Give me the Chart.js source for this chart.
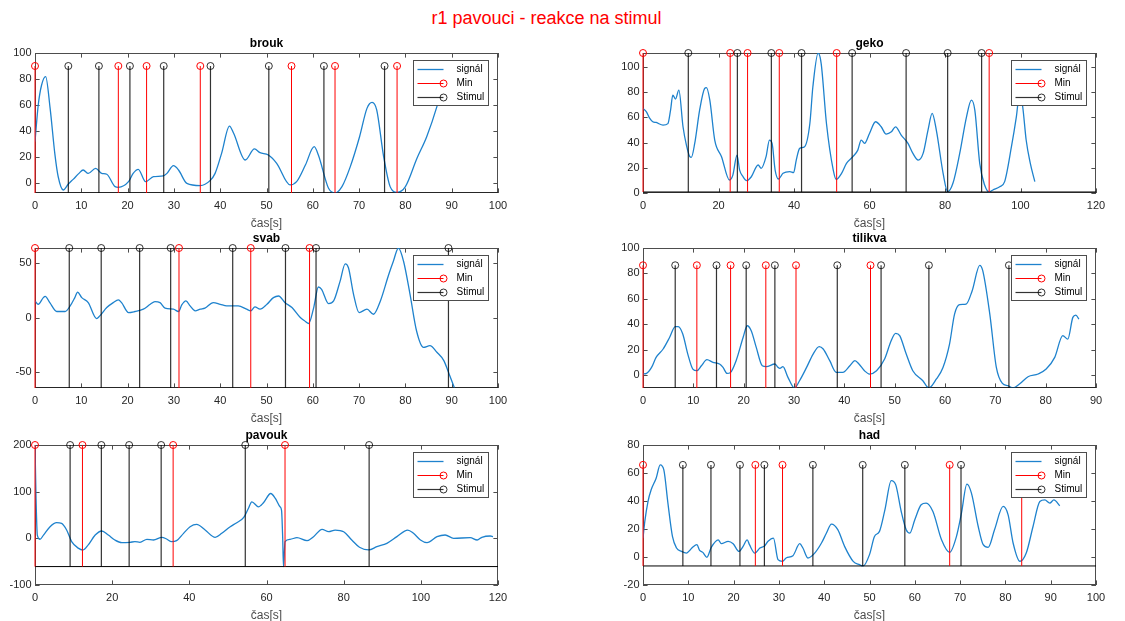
<!DOCTYPE html>
<html>
<head>
<meta charset="utf-8">
<title>r1 pavouci - reakce na stimul</title>
<script src="https://cdn.jsdelivr.net/npm/chart.js@4.4.1/dist/chart.umd.min.js"></script>
<style>
  body { margin: 0; background: #fff; }
  #wrap { position: relative; width: 1125px; height: 621px; overflow: hidden; }
  #suptitle { position: absolute; left: 0; width: 1093px; top: 8px; text-align: center; color: #f00;
              font: 18px/20px "Liberation Sans", Arial, sans-serif; }
  canvas { position: absolute; }
</style>
</head>
<body>
<div id="wrap">
  <div id="suptitle">r1 pavouci - reakce na stimul</div>
  <canvas id="cBrouk" width="508" height="205" style="left:0;top:28px"></canvas>
  <canvas id="cGeko" width="498" height="205" style="left:608px;top:28px"></canvas>
  <canvas id="cSvab" width="508" height="205" style="left:0;top:223px"></canvas>
  <canvas id="cTilikva" width="498" height="205" style="left:608px;top:223px"></canvas>
  <canvas id="cPavouk" width="508" height="205" style="left:0;top:420px"></canvas>
  <canvas id="cHad" width="498" height="205" style="left:608px;top:420px"></canvas>
</div>
<script>
// ---- brouk
const broukTime = [0, 0.7, 1.4, 2.3, 3.25, 4.3, 5.0, 6.1, 7.2, 8.3, 9.5, 10.4, 11.5, 13.1, 14.4, 15.5, 17.3, 18.0, 20.2, 21.2, 22.3, 23.9, 25.6, 27.7, 28.5, 29.9, 31.0, 32.8, 35.7, 37.8, 38.9, 40.3, 42.0, 42.9, 45.4, 47.4, 48.6, 50.4, 52.2, 55.1, 56.5, 58.4, 60.3, 61.2, 63.4, 64.8, 66.3, 68.1, 70.1, 71.7, 72.8, 73.8, 75.3, 76.7, 78.2, 80.0, 82.5, 84.6, 86.8, 88.0, 89.0];
const broukSignal = [31.8, 60, 75, 81.8, 58, 22, 5, -5.4, -0.8, 3, 7.4, 10, 7.4, 11.3, 7.4, 6.7, -2.8, -3.3, 1, 7.4, 10.5, 1, 4.9, 5.4, 7.4, 13.3, 10, -0.3, -2, 1.8, 7.4, 22.8, 43.8, 38.2, 17.7, 26.2, 23.3, 21.5, 15.1, -1.5, 1, 13.8, 27.9, 21.5, -4.1, -7.7, -2.8, 12.6, 35.6, 57.4, 62, 56.2, 20.3, -2.8, -7.2, -2.8, 19, 35.6, 58.7, 75, 90];
const broukMin = [0, 18.0, 24.1, 35.7, 55.4, 64.8, 78.2];
const broukStimul = [7.2, 13.8, 20.5, 27.8, 37.9, 50.5, 62.4, 75.5];
const broukXTicks = [0, 10, 20, 30, 40, 50, 60, 70, 80, 90, 100];
const broukYTicks = [0, 20, 40, 60, 80, 100];

// ---- geko
const gekoTime = [0, 0.9, 1.8, 2.6, 3.5, 5.3, 6.6, 7.3, 7.9, 8.6, 9.5, 10.6, 11.5, 12.4, 12.8, 13.7, 15.0, 16.3, 16.8, 17.7, 19.0, 20.8, 22.9, 23.8, 24.9, 25.6, 26.5, 27.5, 28.7, 30.5, 31.3, 32.6, 33.5, 34.2, 35.0, 35.9, 37.1, 38.9, 39.9, 40.6, 41.5, 42.8, 44.2, 45.0, 46.4, 47.2, 48.6, 50.4, 51.2, 52.6, 53.9, 55.6, 56.9, 57.8, 58.7, 60.0, 61.6, 63.1, 64.4, 65.8, 66.9, 68.4, 70.2, 71.5, 72.9, 74.2, 75.5, 76.6, 77.7, 79.5, 80.7, 82.1, 83.9, 85.7, 87.0, 87.9, 89.2, 90.5, 91.7, 92.7, 94.5, 95.8, 97.6, 98.9, 99.8, 100.6, 101.5, 102.6, 103.8];
const gekoSignal = [67, 64.4, 59.1, 56.5, 55.9, 53.8, 55, 65.7, 77.6, 74.5, 81.5, 52.5, 38, 28.8, 28.2, 39.3, 65.7, 82.8, 83.6, 73.6, 42, 28.8, 10.3, 14.2, 30.1, 18.2, 12.9, 9.8, 12.9, 22.2, 19.5, 28.8, 42, 39.3, 18.2, 11.1, 15.6, 16.9, 16.1, 26.1, 35.4, 36.7, 55.1, 84.2, 111, 102.6, 55.1, 18.2, 10.8, 15.6, 23.5, 28.8, 34, 42, 39.3, 47.2, 56.5, 52.5, 46.7, 48.5, 52.5, 45.9, 39.3, 31.4, 26.1, 31.4, 49.9, 63.1, 49.9, 15.6, 1, 7.7, 31.4, 60.4, 73.6, 65.7, 23.5, 6.3, 0.8, 2.4, 5, 9, 36.7, 60.4, 80, 68, 42, 23.5, 9];
const gekoMin = [0, 23.1, 27.7, 36.1, 51.3, 91.7];
const gekoStimul = [12.0, 25.0, 34.0, 42.0, 55.4, 69.7, 80.7, 89.7];
const gekoXTicks = [0, 20, 40, 60, 80, 100, 120];
const gekoYTicks = [0, 20, 40, 60, 80, 100];

// ---- svab
const svabTime = [0, 0.7, 1.8, 2.2, 3.2, 4.7, 6.5, 7.6, 8.6, 9.2, 10.1, 11.5, 13.3, 14.0, 15.5, 16.9, 18.0, 18.7, 20.2, 21.6, 23.4, 24.9, 25.9, 27.0, 28.1, 29.9, 31.0, 31.7, 32.6, 33.5, 34.6, 35.7, 36.7, 38.5, 40.0, 41.4, 43.9, 45.7, 46.6, 47.5, 48.6, 50.1, 51.5, 52.6, 54.0, 55.5, 57.3, 58.4, 59.1, 60.2, 61.2, 61.9, 63.4, 64.5, 65.9, 67.0, 67.7, 68.8, 70.0, 71.7, 73.1, 74.6, 76.4, 77.4, 78.5, 79.6, 81.0, 82.4, 83.9, 85.3, 86.8, 88.3, 89.3, 90.6];
const svabSignal = [15.2, 12.1, 18.2, 19.4, 13.6, 5.5, 5.5, 10.6, 18.2, 23.3, 18.2, 13.6, -1, 1.5, 9.1, 13.6, 16.1, 13.6, 4.5, 5.5, 7.6, 12.1, 14.5, 13.6, 8.5, 7.6, 5.5, 11.5, 15.2, 10.6, 6.1, 7.6, 8.5, 13.6, 12.1, 10.6, 10.6, 7.6, 6.1, 9.7, 7.6, 12.1, 18.2, 19.7, 13.6, 9.1, 0, -3.6, -5.5, 9.1, 27.9, 25.8, 12.7, 15.2, 33.3, 49.1, 45.5, 21.2, 4.5, 7.6, 3, 15.2, 39.4, 51.5, 63.6, 51.5, 21.2, -12.1, -27.3, -25.8, -31.8, -39.4, -50, -64.5];
const svabMin = [0, 31.1, 46.6, 59.3];
const svabStimul = [7.4, 14.3, 22.6, 29.3, 42.7, 54.1, 60.7, 89.3];
const svabXTicks = [0, 10, 20, 30, 40, 50, 60, 70, 80, 90, 100];
const svabYTicks = [-50, 0, 50];

// ---- tilikva
const tilikvaTime = [0, 0.7, 1.7, 2.6, 4.0, 5.3, 6.4, 7.0, 7.9, 8.9, 9.9, 10.7, 11.6, 12.7, 13.9, 15.2, 15.9, 16.7, 17.4, 18.5, 19.9, 20.7, 21.5, 22.5, 23.7, 24.5, 26.2, 26.7, 27.2, 27.8, 28.8, 30.1, 31.1, 32.5, 33.8, 35.0, 35.8, 37.1, 38.4, 39.7, 41.1, 42.1, 42.9, 44.0, 45.0, 46.4, 48.0, 49.3, 50.2, 51.0, 52.3, 53.6, 55.6, 56.8, 58.3, 59.6, 60.9, 61.9, 62.9, 64.2, 65.4, 66.9, 67.5, 68.9, 70.2, 71.4, 72.5, 73.5, 74.8, 76.5, 78.5, 80.1, 81.8, 83.4, 84.4, 85.4, 86.0, 86.6];
const tilikvaSignal = [0.8, 1.3, 6, 13.9, 20.5, 29.7, 38.1, 38.1, 32.3, 16.5, 4.7, 3.4, 7.3, 12.1, 10, 8.7, 6, 1.3, 2.1, 11.3, 29.7, 38.8, 34.9, 21.8, 7.3, 6.6, 8.7, 6.6, 5.2, 6.6, -1.8, -10.2, -4.5, 6, 16.5, 22.3, 20.5, 11.3, 2.1, 2.1, 7.3, 11.3, 8.7, 3.4, 0.8, 3.4, 12.6, 27, 32.8, 31, 16.5, 3.4, -4.5, -10.2, -3.1, 6, 24.4, 48, 55.4, 55.9, 66.4, 86.4, 82.2, 48, 6, -6.6, -8.4, -10.2, -7.1, -1.3, 0.8, 4.7, 13.9, 31, 28.3, 45.4, 47.2, 44];
const tilikvaMin = [0, 10.7, 17.4, 24.4, 30.4, 45.2];
const tilikvaStimul = [6.4, 14.6, 20.5, 26.2, 38.6, 47.3, 56.8, 72.7];
const tilikvaXTicks = [0, 10, 20, 30, 40, 50, 60, 70, 80, 90];
const tilikvaYTicks = [0, 20, 40, 60, 80, 100];

// ---- pavouk
const pavoukTime = [0, 0.26, 0.6, 1.3, 2.2, 3.9, 5.6, 6.9, 8.2, 9.5, 11.2, 12.4, 13.8, 15.6, 17.3, 19.0, 20.7, 22.5, 24.6, 25.9, 27.2, 29.0, 30.7, 32.9, 34.1, 35.4, 36.7, 38.5, 40.2, 41.9, 44.1, 46.7, 48.4, 50.6, 52.3, 54.1, 55.3, 56.2, 57.9, 59.2, 61.1, 62.3, 63.5, 63.9, 64.2, 64.4, 64.8, 66.1, 67.9, 70.5, 72.2, 74.4, 76.1, 77.8, 80.0, 82.1, 84.1, 86.5, 88.6, 91.2, 93.8, 96.6, 98.1, 99.9, 101.6, 104.2, 106.3, 108.5, 112.8, 114.6, 115.8, 118.0, 118.7];
const pavoukSignal = [200, 89, 7, -2, 7, 25, 33.5, 32, 17.8, -7, -21, -25, -14, 7, 15.7, 7, -3.6, -9.3, -8.5, -7.1, -8.5, -2.1, -3.6, 2.1, -1.4, -7.1, -5, 10.7, 24.9, 29.9, 17.8, 2.1, 10.7, 24.9, 33.5, 44.8, 64, 78.3, 67.6, 76.2, 96.1, 85.4, 67.6, 60, 0, -60.5, -7.1, -2.1, 1.4, -5, 3.6, 19.2, 14.2, 17.8, 14.2, -3.6, -19.2, -24.9, -17.8, -10.7, 3.6, 17.8, 10.7, -3.6, -9.3, 3.6, 7.1, 0, 1.4, -3.6, 2.1, 5, 3.6];
const pavoukMin = [0, 12.3, 35.8, 64.8];
const pavoukStimul = [9.1, 17.2, 24.4, 32.7, 54.5, 86.6];
const pavoukXTicks = [0, 20, 40, 60, 80, 100, 120];
const pavoukYTicks = [-100, 0, 100, 200];

// ---- had
const hadTime = [0, 0.4, 1.1, 1.8, 2.9, 3.8, 4.6, 5.5, 6.5, 7.4, 8.5, 9.6, 10.3, 11.0, 11.9, 12.5, 13.2, 14.1, 15.1, 16.6, 17.3, 18.8, 19.9, 21.2, 22.1, 23.0, 23.5, 24.7, 25.8, 26.9, 27.6, 28.8, 29.8, 30.8, 31.6, 33.1, 34.6, 35.3, 36.4, 37.9, 39.4, 40.5, 41.6, 43.0, 44.5, 46.4, 47.8, 48.6, 50.0, 51.1, 52.2, 53.4, 54.8, 55.8, 57.0, 58.1, 58.9, 60.0, 61.4, 62.5, 64.0, 65.9, 67.7, 69.2, 70.3, 71.5, 72.5, 74.0, 75.1, 76.2, 77.6, 79.5, 80.6, 81.7, 83.2, 84.6, 86.1, 87.6, 88.7, 89.8, 90.7, 92.0];
const hadSignal = [13.5, 25.4, 39.6, 48, 56.3, 65.8, 62.2, 38.5, 14.7, 6.4, 4, 2.8, 4.7, 7.1, 8.8, 4.7, 3.3, -0.2, 7.1, 12.3, 9.5, 11.2, 9.5, 4, 7.6, 12.3, 8.8, 2.8, 6.4, 8.1, 11.2, 13.5, -1.9, -3.1, -0.7, 0.9, 9.5, 6.4, -0.7, 2.8, 10, 17.1, 23.5, 19.5, 7.6, -3.1, -5.5, -6.4, 1.7, 14.7, 18.3, 33.7, 54.6, 51.5, 32.5, 19.5, 17.1, 26.6, 37.3, 38.5, 32.5, 12.3, 3.3, 14.7, 31.3, 52, 45.6, 21.8, 8.8, 6.9, 19.5, 36.1, 30.1, 10, -3.1, 2.8, 21.8, 39.6, 40.8, 38.5, 40.8, 36.6];
const hadMin = [0, 24.8, 30.8, 67.7, 83.6];
const hadStimul = [8.8, 15.0, 21.4, 26.8, 37.5, 48.5, 57.8, 70.2];
const hadXTicks = [0, 10, 20, 30, 40, 50, 60, 70, 80, 90, 100];
const hadYTicks = [-20, 0, 20, 40, 60, 80];

Chart.defaults.font.family = '"Liberation Sans", Arial, Helvetica, sans-serif';
Chart.defaults.color = '#262626';

const AXIS = '#4d4d4d';
const BLUE = 'rgb(30,130,205)';
const TICK_LEN = 4.6;

// stem(): each value becomes base -> top, then a gap
function stemPoints(xs, base, top) {
  const pts = [];
  xs.forEach(x => { pts.push({x: x, y: base}, {x: x, y: top}, {x: x, y: null}); });
  return pts;
}

// axes box with inward ticks on all sides, and a boxed legend at the top right
const matlabAxes = {
  id: 'matlabAxes',
  beforeDatasetsDraw(chart) {
    const {ctx, chartArea: a, scales} = chart;
    ctx.save();
    ctx.strokeStyle = AXIS;
    ctx.lineWidth = 1;
    ctx.strokeRect(a.left + 0.5, a.top + 0.5, a.width - 1, a.height - 1);
    ctx.beginPath();
    scales.x.ticks.forEach(t => {
      const px = Math.round(scales.x.getPixelForValue(t.value)) + 0.5;
      ctx.moveTo(px, a.bottom); ctx.lineTo(px, a.bottom - TICK_LEN);
      ctx.moveTo(px, a.top); ctx.lineTo(px, a.top + TICK_LEN);
    });
    scales.y.ticks.forEach(t => {
      const py = Math.round(scales.y.getPixelForValue(t.value)) + 0.5;
      ctx.moveTo(a.left, py); ctx.lineTo(a.left + TICK_LEN, py);
      ctx.moveTo(a.right, py); ctx.lineTo(a.right - TICK_LEN, py);
    });
    ctx.stroke();
    ctx.restore();
  },
  afterDatasetsDraw(chart) {
    const {ctx, chartArea: a} = chart;
    const items = chart.data.datasets.filter(d => d.label);
    const w = 75, h = 45;
    const x0 = Math.round(a.right - 10 - w) + 0.5;
    const y0 = Math.round(a.top + 7) + 0.5;
    ctx.save();
    ctx.fillStyle = '#fff';
    ctx.fillRect(x0, y0, w, h);
    ctx.strokeStyle = AXIS;
    ctx.lineWidth = 1;
    ctx.strokeRect(x0, y0, w, h);
    ctx.font = '10px "Liberation Sans", Arial, sans-serif';
    ctx.textBaseline = 'middle';
    items.forEach((d, i) => {
      const y = y0 + 9 + i * 14;
      ctx.strokeStyle = d.borderColor;
      ctx.lineWidth = d.borderWidth;
      ctx.beginPath();
      ctx.moveTo(x0 + 4, y); ctx.lineTo(x0 + 30, y);
      ctx.stroke();
      if (d.stemMarker) {
        ctx.lineWidth = 1;
        ctx.beginPath();
        ctx.arc(x0 + 30, y, 3.5, 0, Math.PI * 2);
        ctx.stroke();
      }
      ctx.fillStyle = '#000';
      ctx.fillText(d.label, x0 + 43, y);
    });
    ctx.restore();
  }
};

function makePanel(id, title, time, signal, mins, stims, base, top, xTicks, yTicks, yMin, yMax) {
  const xMin = xTicks[0], xMax = xTicks[xTicks.length - 1];
  const stemStyle = (color, width) => ({
    borderColor: color, borderWidth: width, tension: 0, spanGaps: false, clip: false,
    pointRadius: c => (c.dataIndex % 3 === 1 ? 3.5 : 0),
    pointStyle: 'circle', pointBorderColor: color, pointBorderWidth: 1,
    pointBackgroundColor: 'rgba(0,0,0,0)', stemMarker: true
  });
  return new Chart(document.getElementById(id), {
    type: 'line',
    data: {
      datasets: [
        { label: 'signál', order: 3, data: time.map((t, i) => ({x: t, y: signal[i]})),
          borderColor: BLUE, borderWidth: 1.3, pointRadius: 0, cubicInterpolationMode: 'monotone' },
        Object.assign({ label: 'Min', order: 1, data: stemPoints(mins, base, top) }, stemStyle('#ff0000', 1)),
        Object.assign({ label: 'Stimul', order: 0, data: stemPoints(stims, base, top) }, stemStyle('rgba(0,0,0,0.8)', 1.2)),
        // stem baseline
        { order: 2, data: [{x: xMin, y: base}, {x: xMax, y: base}],
          borderColor: '#000', borderWidth: 1, pointRadius: 0 }
      ]
    },
    options: {
      responsive: false,
      animation: false,
      events: [],
      layout: { padding: { left: 0, right: 10, top: 0, bottom: 0 } },
      plugins: {
        legend: { display: false },
        tooltip: { enabled: false },
        title: { display: true, text: title, fullSize: false, color: '#000',
                 font: { size: 12, weight: 'bold' }, padding: { top: 8.1, bottom: 2.5 } }
      },
      scales: {
        x: {
          type: 'linear', min: xMin, max: xMax,
          grid: { display: false, drawTicks: false }, border: { display: false },
          afterBuildTicks: s => { s.ticks = xTicks.map(v => ({value: v})); },
          ticks: { font: { size: 11 }, padding: 6.4, maxRotation: 0, autoSkip: false },
          title: { display: true, text: 'čas[s]', color: AXIS, font: { size: 12 },
                   padding: { top: 0, bottom: 2 } },
          afterFit: s => { s.height = 40; s.paddingLeft = 0; s.paddingRight = 0; }
        },
        y: {
          type: 'linear', min: yMin, max: yMax,
          grid: { display: false, drawTicks: false }, border: { display: false },
          afterBuildTicks: s => { s.ticks = yTicks.map(v => ({value: v})); },
          ticks: { font: { size: 11 }, padding: 3.5, autoSkip: false },
          afterFit: s => { s.width = 35; s.paddingTop = 0; s.paddingBottom = 0; }
        }
      }
    },
    plugins: [matlabAxes]
  });
}

makePanel('cBrouk', 'brouk', broukTime, broukSignal, broukMin, broukStimul, -7.7, 90, broukXTicks, broukYTicks, -7.7, 100);
makePanel('cGeko', 'geko', gekoTime, gekoSignal, gekoMin, gekoStimul, 0.8, 111, gekoXTicks, gekoYTicks, 0, 111);
makePanel('cSvab', 'svab', svabTime, svabSignal, svabMin, svabStimul, -64.5, 63.6, svabXTicks, svabYTicks, -64.5, 63.6);
makePanel('cTilikva', 'tilikva', tilikvaTime, tilikvaSignal, tilikvaMin, tilikvaStimul, -10.2, 86.4, tilikvaXTicks, tilikvaYTicks, -10.2, 100);
makePanel('cPavouk', 'pavouk', pavoukTime, pavoukSignal, pavoukMin, pavoukStimul, -60.5, 200, pavoukXTicks, pavoukYTicks, -100, 200);
makePanel('cHad', 'had', hadTime, hadSignal, hadMin, hadStimul, -6.4, 65.8, hadXTicks, hadYTicks, -20, 80);
</script>
</body>
</html>
